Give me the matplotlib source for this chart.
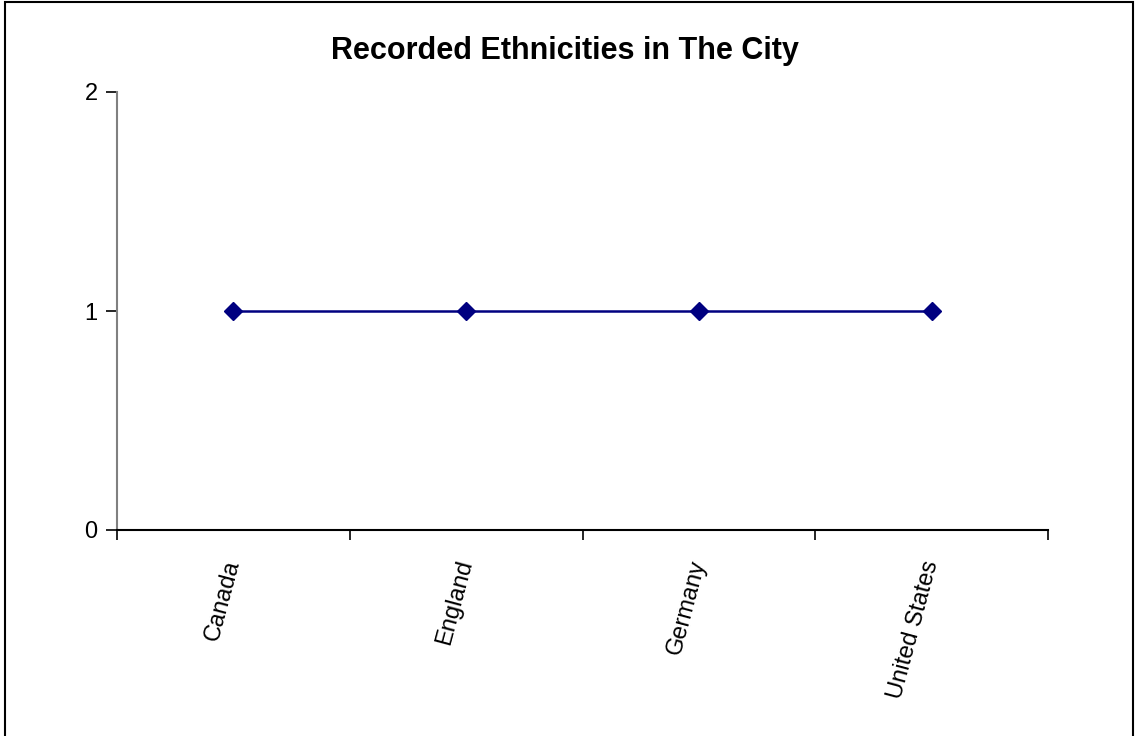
import matplotlib.pyplot as plt
from matplotlib.patches import Rectangle
import numpy as np

# chart data
countries = ['Canada', 'England', 'Germany', 'United States']
counts = [1, 1, 1, 1]
y_ticks = [0, 1, 2]

plt.rcParams['font.family'] = ['Liberation Sans', 'DejaVu Sans']

W, H = 1135, 736
fig = plt.figure(figsize=(W / 100, H / 100), dpi=100)
ax = fig.add_axes([117 / W, 1 - 530 / H, (1048 - 117) / W, (530 - 92) / H])

x = np.arange(len(countries))
ax.plot(x, counts, color='#000080', lw=1.8, marker='D', ms=9,
        markerfacecolor='#000080', markeredgecolor='#000080')

ax.set_xlim(-0.5, len(countries) - 0.5)
ax.set_ylim(0, 2)

# boundary ticks (major) and category labels (minor)
ax.set_xticks(np.arange(len(countries) + 1) - 0.5)
ax.set_xticklabels([])
ax.set_xticks(x, countries, minor=True)
ax.tick_params(axis='x', which='major', length=7, width=1.2, direction='out')
ax.tick_params(axis='x', which='minor', length=0, pad=22, labelsize=17)
for lbl in ax.get_xticklabels(minor=True):
    lbl.set_rotation(75)
    lbl.set_ha('right')
    lbl.set_va('center')
    lbl.set_rotation_mode('anchor')

ax.set_yticks(y_ticks)
ax.tick_params(axis='y', length=8, width=1.2, direction='out', pad=6,
               labelsize=17, color='black')

for s in ['top', 'right']:
    ax.spines[s].set_visible(False)
ax.spines['left'].set_color('#808080')
ax.spines['left'].set_linewidth(1.5)
ax.spines['bottom'].set_color('black')
ax.spines['bottom'].set_linewidth(1.5)

fig.text(565 / W, 1 - 51 / H, 'Recorded Ethnicities in The City',
         ha='center', va='center', fontsize=22, fontweight='bold')

# outer chart frame (bottom edge falls outside the image)
fig.add_artist(Rectangle((5 / W, -0.02), (1133 - 5) / W, 1.02 - 1.5 / H,
                         transform=fig.transFigure, fill=False,
                         ec='black', lw=1.5))

fig.savefig('out.png', dpi=100)
